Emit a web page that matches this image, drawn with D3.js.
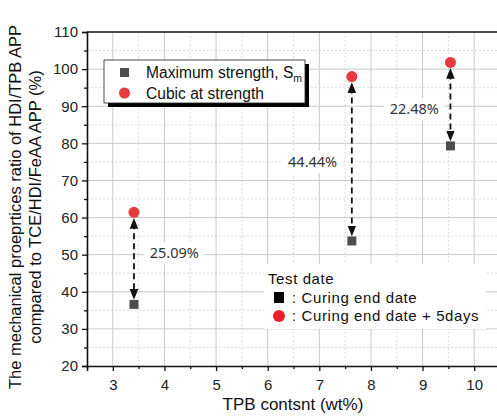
<!DOCTYPE html>
<html lang="en">
  <head>
    <meta charset="UTF-8" />
    <title>TPB content</title>
    <style>
      body { margin: 0; background: #fff; }
      .tick text { font-family: "Liberation Sans", Arial, sans-serif; font-size: 15px; fill: #222; }
      .grid-major line { stroke: #c8c8c8; stroke-width: 1; }
      .grid-minor line { stroke: #dcdcdc; stroke-width: 1; stroke-dasharray: 2,2; }
    </style>
  </head>
  <body>
    <script src="https://cdnjs.cloudflare.com/ajax/libs/d3/7.8.5/d3.min.js"></script>
    <script>
      const tpb = [3.41, 7.63, 9.54];
      const maxStrength = [36.6, 53.7, 79.3];
      const cubicStrength = [61.4, 98.0, 101.8];
      const gainLabels = ["25.09%", "44.44%", "22.48%"];
      const labelPos = [[4.19, 50.4], [6.87, 75.0], [8.84, 89.2]];
      const xTicks = [3, 4, 5, 6, 7, 8, 9, 10];
      const yTicks = [20, 30, 40, 50, 60, 70, 80, 90, 100, 110];

      const width = 497, height = 417;
      const margin = { left: 87, top: 32, right: -3, bottom: 51 };

      const svg = d3.select("body").append("svg")
        .attr("width", width).attr("height", height);

      const x = d3.scaleLinear().domain([2.5, 10.5]).range([margin.left, width - margin.right]);
      const y = d3.scaleLinear().domain([20, 110]).range([height - margin.bottom, margin.top]);

      const xMinor = d3.range(2.5, 10.6, 0.5);
      const yMinor = d3.range(20, 111, 5);

      // grid
      const gMin = svg.append("g").attr("class", "grid-minor");
      gMin.selectAll("line.v").data(xMinor.filter(v => v % 1 !== 0)).join("line").attr("class", "v")
        .attr("x1", d => x(d)).attr("x2", d => x(d)).attr("y1", y(20)).attr("y2", y(110));
      gMin.selectAll("line.h").data(yMinor.filter(v => v % 10 !== 0)).join("line").attr("class", "h")
        .attr("y1", d => y(d)).attr("y2", d => y(d)).attr("x1", x(2.5)).attr("x2", x(10.5));

      const gMaj = svg.append("g").attr("class", "grid-major");
      gMaj.selectAll("line.v").data(xTicks).join("line").attr("class", "v")
        .attr("x1", d => x(d)).attr("x2", d => x(d)).attr("y1", y(20)).attr("y2", y(110));
      gMaj.selectAll("line.h").data(yTicks.slice(1, -1)).join("line").attr("class", "h")
        .attr("y1", d => y(d)).attr("y2", d => y(d)).attr("x1", x(2.5)).attr("x2", x(10.5));

      // axes
      svg.append("g").attr("transform", `translate(0,${y(20)})`)
        .call(d3.axisBottom(x).tickValues(xTicks).tickSize(5).tickPadding(8).tickFormat(d3.format("d")));
      svg.append("g").attr("transform", `translate(0,${y(20)})`)
        .call(d3.axisBottom(x).tickValues(xMinor.filter(v => v % 1 !== 0)).tickSize(3).tickFormat(""))
        .select(".domain").remove();
      svg.append("g").attr("transform", `translate(${x(2.5)},0)`)
        .call(d3.axisLeft(y).tickValues(yTicks).tickSize(5).tickPadding(4));
      svg.append("g").attr("transform", `translate(${x(2.5)},0)`)
        .call(d3.axisLeft(y).tickValues(yMinor.filter(v => v % 10 !== 0)).tickSize(3).tickFormat(""))
        .select(".domain").remove();
      svg.selectAll(".domain").attr("stroke", "#111").attr("stroke-width", 1.6);
      svg.selectAll(".tick line").attr("stroke", "#111").attr("stroke-width", 1.3);

      svg.append("line")
        .attr("x1", x(2.5)).attr("x2", width).attr("y1", y(110)).attr("y2", y(110))
        .attr("stroke", "#111").attr("stroke-width", 1.6);

      // arrows
      const defs = svg.append("defs");
      defs.append("marker").attr("id", "ah").attr("viewBox", "0 0 10 10")
        .attr("refX", 5).attr("refY", 5).attr("markerWidth", 6).attr("markerHeight", 6)
        .attr("orient", "auto-start-reverse")
        .append("path").attr("d", "M0,1 L10,5 L0,9 Z").attr("fill", "#111");

      svg.append("g").selectAll("line").data(tpb).join("line")
        .attr("x1", d => x(d)).attr("x2", d => x(d))
        .attr("y1", (d, i) => y(cubicStrength[i]) + 11)
        .attr("y2", (d, i) => y(maxStrength[i]) - 10)
        .attr("stroke", "#111").attr("stroke-width", 1.8)
        .attr("stroke-dasharray", "6,4")
        .attr("marker-start", "url(#ah)").attr("marker-end", "url(#ah)");

      // labels
      const lab = svg.append("g").selectAll("g").data(gainLabels).join("g")
        .attr("transform", (d, i) => `translate(${x(labelPos[i][0])},${y(labelPos[i][1])})`);
      lab.append("rect").attr("x", -30).attr("y", -11).attr("width", 60).attr("height", 22).attr("fill", "#fff");
      lab.append("text").text(d => d).attr("text-anchor", "middle").attr("dy", "0.35em")
        .attr("font-family", "'Noto Sans', sans-serif").attr("font-size", 14.5).attr("fill", "#333");

      // points
      svg.append("g").selectAll("rect").data(tpb).join("rect")
        .attr("x", d => x(d) - 4.5).attr("y", (d, i) => y(maxStrength[i]) - 4.5)
        .attr("width", 9).attr("height", 9).attr("fill", "#4d4d4d");
      svg.append("g").selectAll("circle").data(tpb).join("circle")
        .attr("cx", d => x(d)).attr("cy", (d, i) => y(cubicStrength[i]))
        .attr("r", 5.5).attr("fill", "#e53a3e");

      // legend 1
      const lg = svg.append("g");
      lg.append("rect").attr("x", 108).attr("y", 64).attr("width", 201).attr("height", 43).attr("fill", "#000");
      lg.append("rect").attr("x", 104).attr("y", 60).attr("width", 201).attr("height", 43)
        .attr("fill", "#fff").attr("stroke", "#222").attr("stroke-width", 0.8);
      lg.append("rect").attr("x", 120).attr("y", 68).attr("width", 9).attr("height", 9).attr("fill", "#4d4d4d");
      lg.append("circle").attr("cx", 124.5).attr("cy", 93).attr("r", 5.5).attr("fill", "#e53a3e");
      const t1 = lg.append("text").attr("x", 146).attr("y", 78)
        .attr("font-family", "'Liberation Sans', Arial, sans-serif").attr("font-size", 15.6).attr("fill", "#111");
      t1.append("tspan").text("Maximum strength, S");
      t1.append("tspan").text("m").attr("font-size", 10.5).attr("dy", 4);
      lg.append("text").attr("x", 146).attr("y", 99).text("Cubic at strength")
        .attr("font-family", "'Liberation Sans', Arial, sans-serif").attr("font-size", 15.6).attr("fill", "#111");

      // legend 2
      const lg2 = svg.append("g").attr("font-family", "'Liberation Sans', Arial, sans-serif")
        .attr("font-size", 15).attr("letter-spacing", 0.6).attr("fill", "#111");
      lg2.append("rect").attr("x", 264).attr("y", 264).attr("width", 222).attr("height", 65).attr("fill", "#fff");
      lg2.append("text").attr("x", 268).attr("y", 284).text("Test date");
      lg2.append("rect").attr("x", 274).attr("y", 292).attr("width", 10).attr("height", 11).attr("fill", "#000");
      lg2.append("text").attr("x", 292).attr("y", 303).text(": Curing end date");
      lg2.append("circle").attr("cx", 279).attr("cy", 316).attr("r", 6).attr("fill", "#ee2026");
      lg2.append("text").attr("x", 292).attr("y", 321).text(": Curing end date + 5days");

      // axis titles
      svg.append("text").attr("x", 293).attr("y", 410).attr("text-anchor", "middle")
        .attr("font-family", "'Liberation Sans', Arial, sans-serif").attr("font-size", 17).attr("fill", "#111")
        .text("TPB contsnt (wt%)");
      const yt = svg.append("text").attr("transform", `translate(21,${(y(20) + y(110)) / 2 + 8}) rotate(-90)`)
        .attr("text-anchor", "middle")
        .attr("font-family", "'Liberation Sans', Arial, sans-serif").attr("font-size", 16.5).attr("fill", "#111");
      yt.append("tspan").attr("x", 0).attr("dy", 0).text("The mechanical proeprtices ratio of HDI/TPB APP");
      yt.append("tspan").attr("x", 0).attr("dy", 20).text("compared to TCE/HDI/FeAA APP (%)");
    </script>
  </body>
</html>
